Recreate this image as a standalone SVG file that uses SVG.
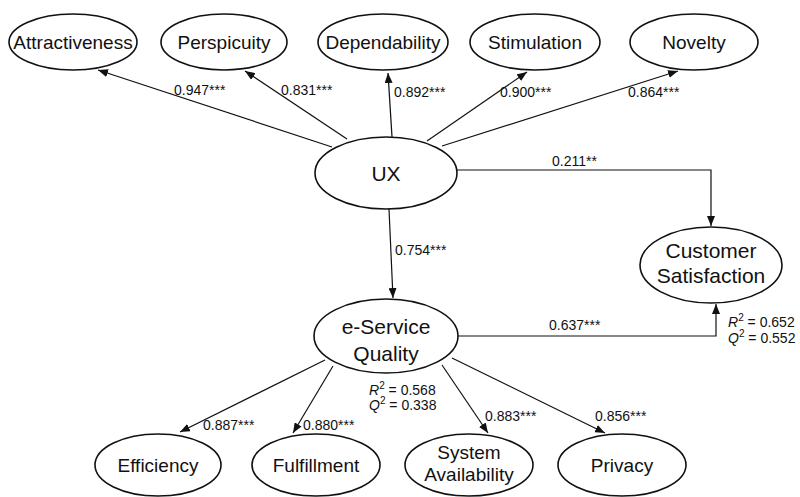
<svg xmlns="http://www.w3.org/2000/svg" width="800" height="497" viewBox="0 0 800 497">
<style>
text{font-family:"Liberation Sans",Arial,sans-serif;fill:#111}
.node ellipse{fill:#fff;stroke:#111;stroke-width:1.6}
.outer{font-size:19px;text-anchor:middle}
.central{font-size:21px;text-anchor:middle}
.lbl{font-size:14px}
.stat{font-size:14px}
#connectors path,#connectors line{stroke:#111;stroke-width:1.2;fill:none;marker-end:url(#arr)}
</style>
<defs>
<marker id="arr" viewBox="0 0 10 8" markerWidth="10" markerHeight="8" refX="10" refY="4" orient="auto" markerUnits="userSpaceOnUse">
<path d="M0,0 L10,4 L0,8 z" fill="#111"/>
</marker>
</defs>
<rect width="800" height="497" fill="#fff"/>
<g id="connectors">
<line x1="332" y1="147" x2="98" y2="70"/>
<line x1="347" y1="139" x2="245" y2="71"/>
<line x1="392" y1="137" x2="388" y2="73"/>
<line x1="427" y1="141" x2="527" y2="72"/>
<line x1="442" y1="146" x2="678" y2="71"/>
<path d="M457,170 H711 V226"/>
<line x1="389" y1="209" x2="393" y2="298"/>
<path d="M458,336 H716 V304"/>
<line x1="325" y1="360" x2="180" y2="432"/>
<line x1="333" y1="366" x2="293" y2="433"/>
<line x1="442" y1="365" x2="488" y2="433"/>
<line x1="452" y1="358" x2="605" y2="433"/>
</g>
<g id="labels">
<text class="lbl" x="174" y="95">0.947***</text>
<text class="lbl" x="281" y="95">0.831***</text>
<text class="lbl" x="394" y="97">0.892***</text>
<text class="lbl" x="500" y="97">0.900***</text>
<text class="lbl" x="628" y="97">0.864***</text>
<text class="lbl" x="552" y="166">0.211**</text>
<text class="lbl" x="395" y="255">0.754***</text>
<text class="lbl" x="549" y="330">0.637***</text>
<text class="lbl" x="203" y="430">0.887***</text>
<text class="lbl" x="303" y="430">0.880***</text>
<text class="lbl" x="485" y="421">0.883***</text>
<text class="lbl" x="595" y="421">0.856***</text>
<text class="stat" x="728" y="327"><tspan font-style="italic">R</tspan><tspan dy="-6" font-size="10">2</tspan><tspan dy="6"> = 0.652</tspan></text>
<text class="stat" x="728" y="343"><tspan font-style="italic">Q</tspan><tspan dy="-6" font-size="10">2</tspan><tspan dy="6"> = 0.552</tspan></text>
<text class="stat" x="369" y="395"><tspan font-style="italic">R</tspan><tspan dy="-6" font-size="10">2</tspan><tspan dy="6"> = 0.568</tspan></text>
<text class="stat" x="369" y="410"><tspan font-style="italic">Q</tspan><tspan dy="-6" font-size="10">2</tspan><tspan dy="6"> = 0.338</tspan></text>
</g>
<g id="attractiveness" class="node"><ellipse cx="73" cy="42" rx="64" ry="28"/><text class="outer" x="73" y="49">Attractiveness</text></g>
<g id="perspicuity" class="node"><ellipse cx="224" cy="42" rx="63" ry="28"/><text class="outer" x="224" y="49">Perspicuity</text></g>
<g id="dependability" class="node"><ellipse cx="383" cy="42" rx="65" ry="28"/><text class="outer" x="383" y="49">Dependability</text></g>
<g id="stimulation" class="node"><ellipse cx="535" cy="42" rx="65" ry="28"/><text class="outer" x="535" y="49">Stimulation</text></g>
<g id="novelty" class="node"><ellipse cx="694" cy="42" rx="64" ry="28"/><text class="outer" x="694" y="49">Novelty</text></g>
<g id="ux" class="node"><ellipse cx="386" cy="173" rx="71" ry="36"/><text class="central" x="386" y="181">UX</text></g>
<g id="customer-satisfaction" class="node"><ellipse cx="711" cy="265" rx="71" ry="38"/><text class="central" x="711" y="258">Customer</text><text class="central" x="711" y="283">Satisfaction</text></g>
<g id="e-service-quality" class="node"><ellipse cx="386" cy="336" rx="72" ry="37"/><text class="central" x="386" y="334">e-Service</text><text class="central" x="386" y="361">Quality</text></g>
<g id="efficiency" class="node"><ellipse cx="158" cy="465" rx="63" ry="31"/><text class="outer" x="158" y="472">Efficiency</text></g>
<g id="fulfillment" class="node"><ellipse cx="316" cy="465" rx="64" ry="31"/><text class="outer" x="316" y="472">Fulfillment</text></g>
<g id="system-availability" class="node"><ellipse cx="469" cy="465" rx="64" ry="31"/><text class="outer" x="469" y="459">System</text><text class="outer" x="469" y="481">Availability</text></g>
<g id="privacy" class="node"><ellipse cx="622" cy="465" rx="64" ry="31"/><text class="outer" x="622" y="472">Privacy</text></g>
</svg>
